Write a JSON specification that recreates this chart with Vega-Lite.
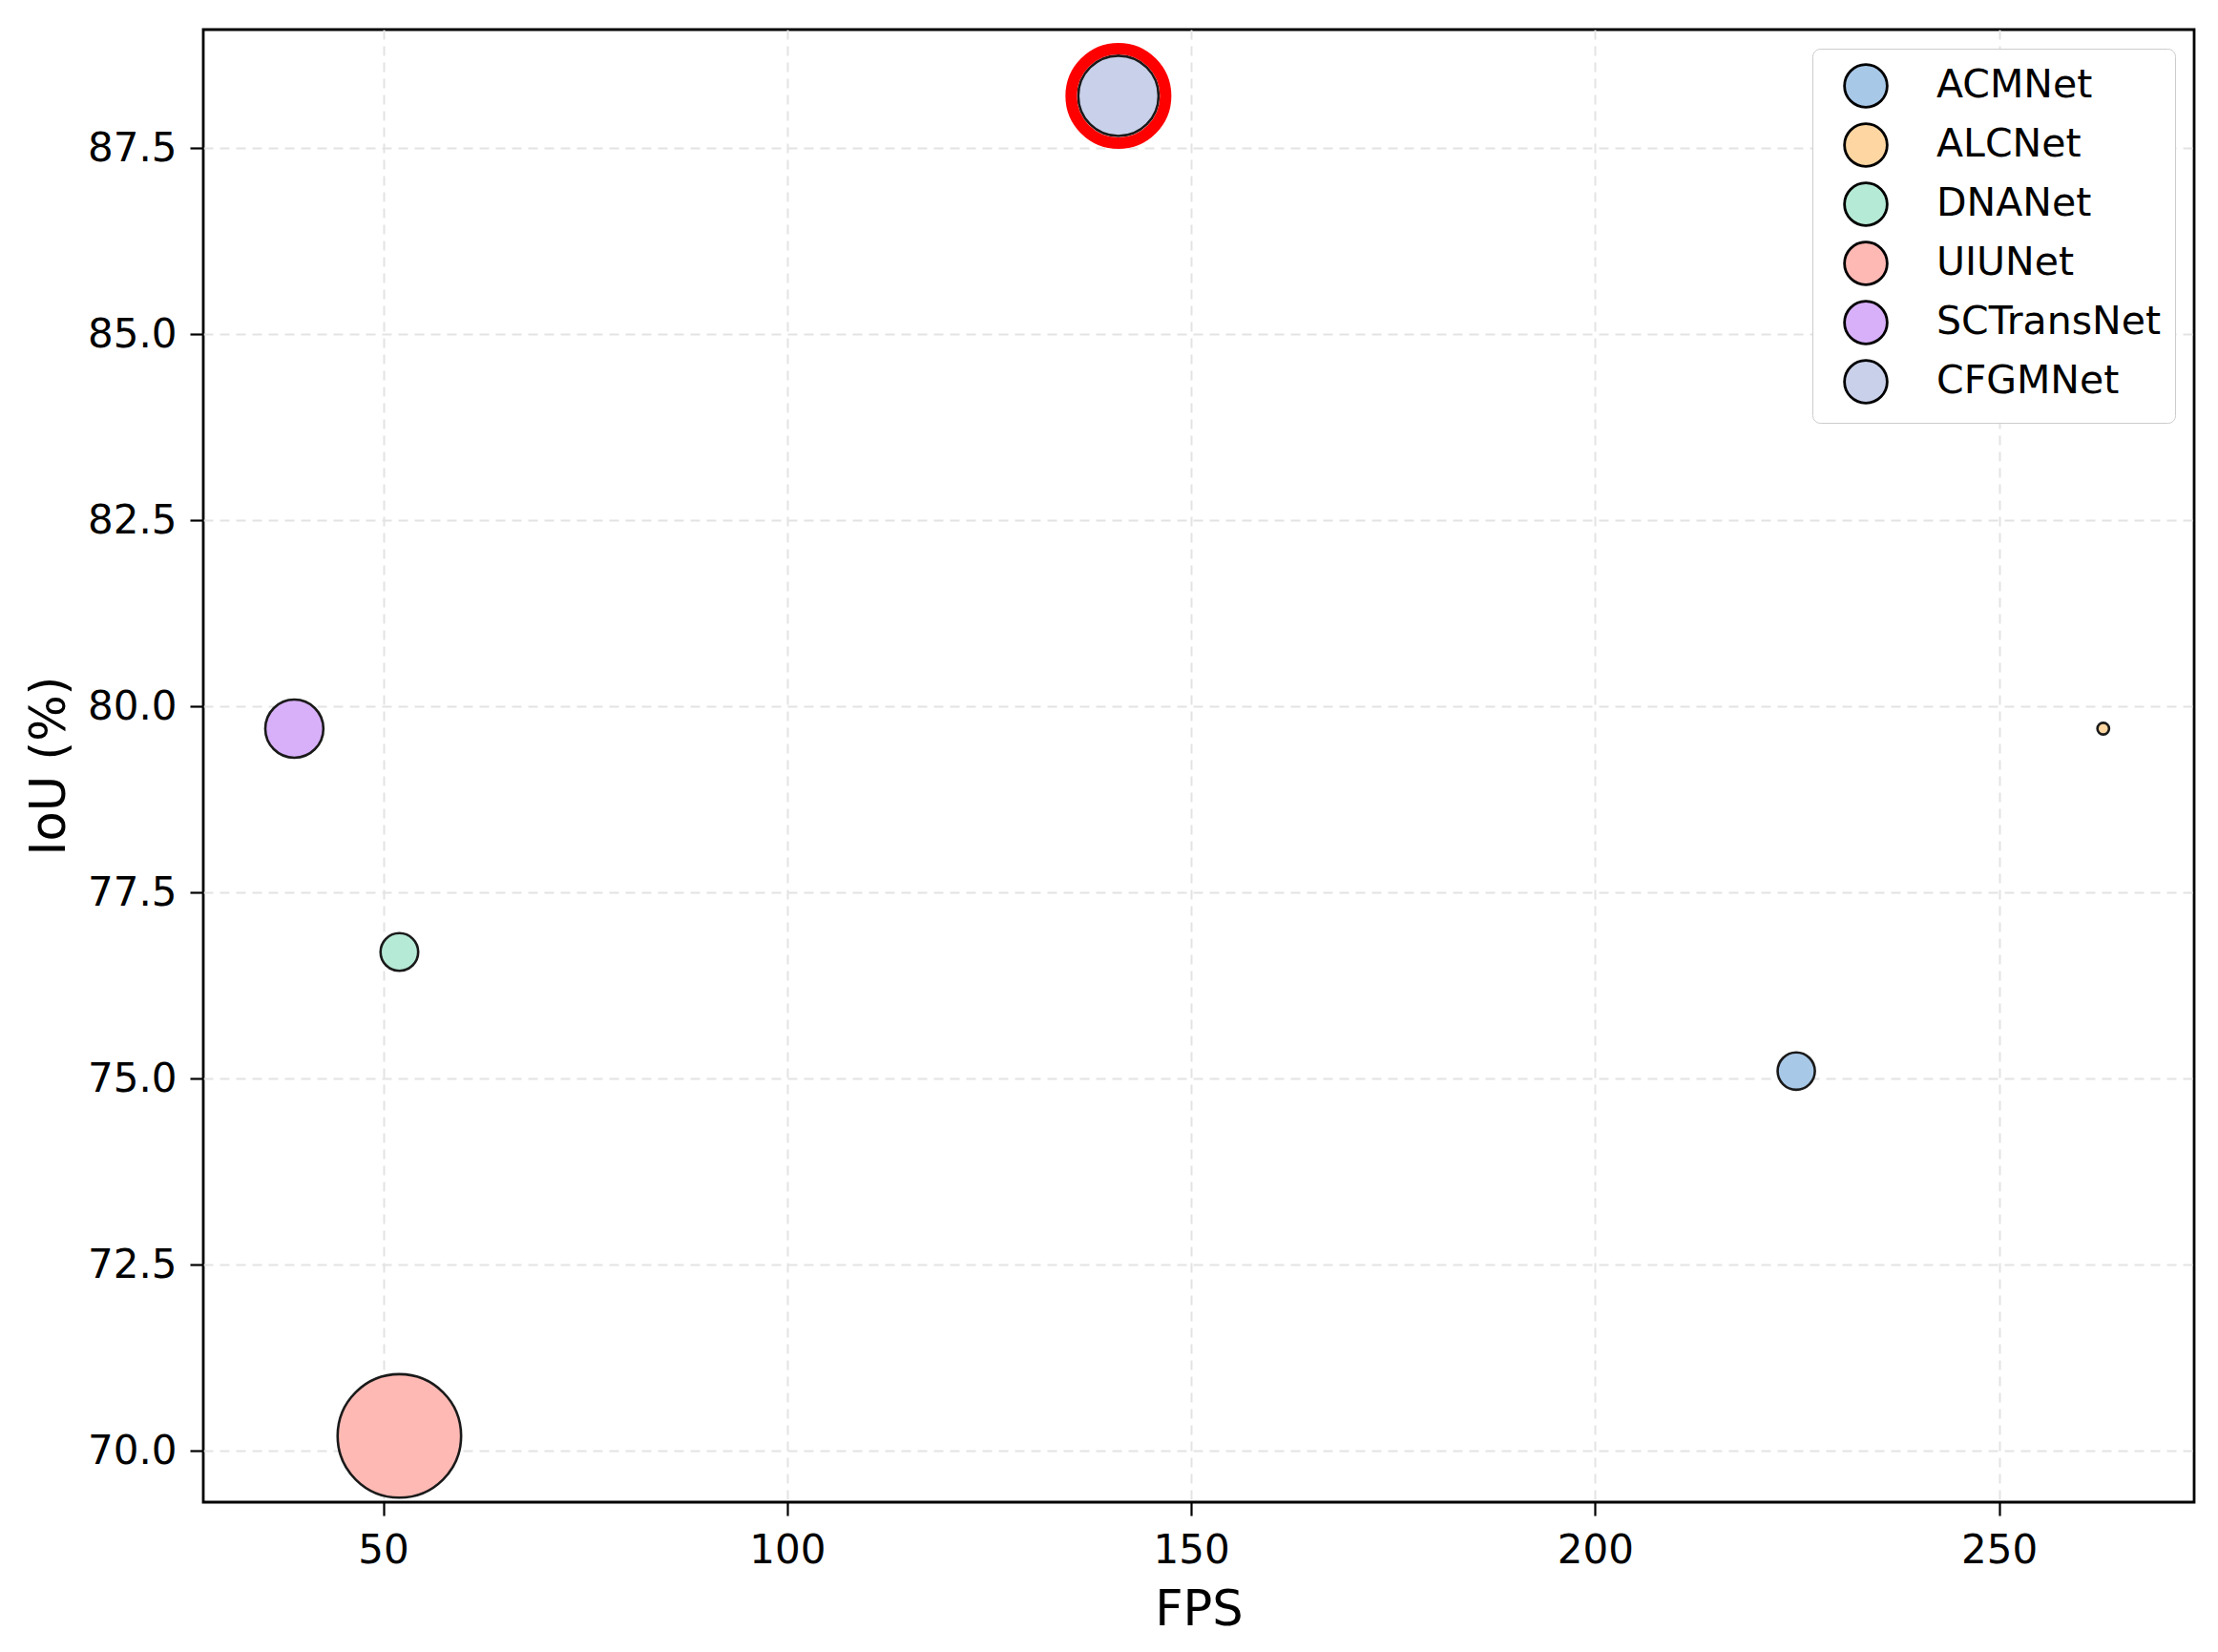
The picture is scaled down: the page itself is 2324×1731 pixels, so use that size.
{
  "$schema": "https://vega.github.io/schema/vega-lite/v6.json",
  "description": "IoU vs FPS bubble chart",
  "autosize": {"type": "none"},
  "padding": {"left": 213, "top": 31, "right": 25, "bottom": 157},
  "width": 2086,
  "height": 1543,
  "background": "white",
  "config": {
    "font": "DejaVu Sans",
    "view": {"stroke": "black", "strokeWidth": 2.8},
    "axis": {
      "domain": false,
      "grid": true,
      "gridColor": "#e3e3e3",
      "gridDash": [10, 7],
      "gridWidth": 2,
      "tickColor": "black",
      "tickWidth": 2.2,
      "tickSize": 14,
      "labelColor": "black",
      "labelFontSize": 42,
      "labelFont": "DejaVu Sans",
      "titleFont": "DejaVu Sans",
      "titleFontWeight": "normal",
      "titleColor": "black",
      "titleFontSize": 51
    }
  },
  "data": {
    "values": [
      {"model": "ACMNet", "fps": 224.9, "iou": 75.1, "params": 4.6},
      {"model": "ALCNet", "fps": 262.9, "iou": 79.7, "params": 0.45},
      {"model": "DNANet", "fps": 52.0, "iou": 76.7, "params": 4.7},
      {"model": "UIUNet", "fps": 52.0, "iou": 70.2, "params": 50.54},
      {"model": "SCTransNet", "fps": 39.0, "iou": 79.7, "params": 11.19},
      {"model": "CFGMNet", "fps": 141.0, "iou": 88.2, "params": 21.4}
    ]
  },
  "encoding": {
    "x": {
      "field": "fps", "type": "quantitative", "title": "FPS",
      "scale": {"domain": [27.73, 274.15], "nice": false, "zero": false},
      "axis": {
        "values": [50, 100, 150, 200, 250],
        "labelBaseline": "alphabetic",
        "labelPadding": 49,
        "titleBaseline": "alphabetic",
        "titleX": 1043,
        "titleY": 128
      }
    },
    "y": {
      "field": "iou", "type": "quantitative", "title": "IoU (%)",
      "scale": {"domain": [69.31, 89.09], "nice": false, "zero": false},
      "axis": {
        "values": [70, 72.5, 75, 77.5, 80, 82.5, 85, 87.5],
        "format": ".1f",
        "labelPadding": 14,
        "titleAngle": 270,
        "titleBaseline": "alphabetic",
        "titleAlign": "center",
        "titleX": -146,
        "titleY": 771
      }
    }
  },
  "layer": [
    {
      "mark": {"type": "point", "shape": "circle", "filled": true, "opacity": 1, "stroke": "#1a1a1a", "strokeWidth": 2.6, "clip": true},
      "encoding": {
        "color": {
          "field": "model", "type": "nominal", "title": null,
          "scale": {
            "domain": ["ACMNet", "ALCNet", "DNANet", "UIUNet", "SCTransNet", "CFGMNet"],
            "range": ["#a8c8e8", "#fdd6a2", "#b5ead6", "#ffb9b4", "#d8b0fa", "#c9d0ea"]
          },
          "legend": {
            "orient": "top-right",
            "offset": 20,
            "padding": 15,
            "symbolOffset": 17,
            "rowPadding": 6,
            "labelOffset": 50,
            "labelFontSize": 41,
            "labelFont": "DejaVu Sans",
            "labelColor": "black",
            "labelLimit": 500,
            "symbolSize": 2000,
            "symbolType": "circle",
            "symbolStrokeColor": "black",
            "symbolStrokeWidth": 2.8,
            "symbolOpacity": 1,
            "fillColor": "white",
            "strokeColor": "#cccccc",
            "cornerRadius": 8
          }
        },
        "size": {
          "field": "params", "type": "quantitative", "legend": null,
          "scale": {"type": "linear", "domain": [0, 50.54], "range": [0, 16741]}
        }
      }
    },
    {
      "transform": [{"filter": "datum.model === 'CFGMNet'"}],
      "mark": {"type": "point", "shape": "circle", "filled": false, "stroke": "#ff0000", "strokeWidth": 12, "size": 9800, "opacity": 1},
      "encoding": {}
    }
  ]
}
